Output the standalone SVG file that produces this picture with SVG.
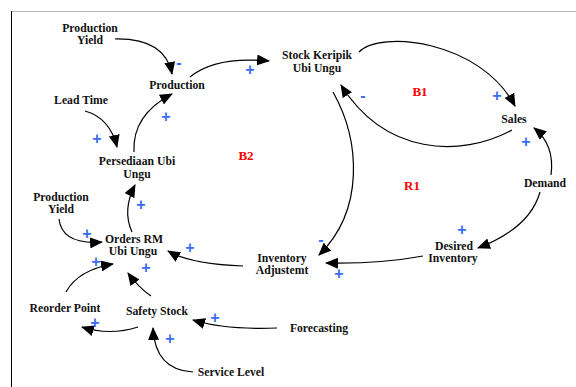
<svg xmlns="http://www.w3.org/2000/svg" width="576" height="387" viewBox="0 0 576 387">
<style>
.t{font-family:"Liberation Serif","Times New Roman",serif;font-weight:bold;font-size:11.7px;fill:#111;text-anchor:middle}
.l{font-family:"Liberation Serif","Times New Roman",serif;font-weight:bold;font-size:13px;fill:#ff0000;text-anchor:middle}
.p{font-family:"Liberation Sans",Arial,sans-serif;font-weight:bold;font-size:16px;fill:#3a6cf4;text-anchor:middle}
.c{fill:none;stroke:#000;stroke-width:1.2;marker-end:url(#ah)}
</style>
<defs>
<marker id="ah" markerWidth="13" markerHeight="11" refX="12" refY="5.5" orient="auto" markerUnits="userSpaceOnUse">
<path d="M0,0 L13,5.5 L0,11 Z" fill="#000"/>
</marker>
</defs>
<rect width="576" height="387" fill="#fff"/>
<line x1="11" y1="11.5" x2="576" y2="11.5" stroke="#bbb" stroke-width="1"/>
<line x1="11.5" y1="11" x2="11.5" y2="387" stroke="#000" stroke-width="1"/>

<g id="connectors">
<path class="c" d="M115,39 Q165,38 172,74"/>
<path class="c" d="M190,77 Q215,56 269,61"/>
<path class="c" d="M85,111 Q110,118 117,147"/>
<path class="c" d="M134,152 Q132,115 172,94"/>
<path class="c" d="M132,232 Q122,210 135,185"/>
<path class="c" d="M59,219 Q62,245 102,242"/>
<path class="c" d="M66,292 Q78,270 113,264"/>
<path class="c" d="M151,296 Q138,287 128,273"/>
<path class="c" d="M243,266 Q190,264 168,251"/>
<path class="c" d="M138,327 Q110,336 82,327"/>
<path class="c" d="M277,328 Q225,330 193,320"/>
<path class="c" d="M193,372 Q155,370 153,328"/>
<path class="c" d="M359,52 C380,30 480,40 515,106"/>
<path class="c" d="M512,130 C460,158 385,155 341,85"/>
<path class="c" d="M333,92 C360,140 365,210 319,255"/>
<path class="c" d="M423,256 Q380,264 326,263" stroke="#666"/>
<path class="c" d="M551,175 Q555,145 534,128"/>
<path class="c" d="M540,192 Q530,228 478,248"/>
</g>

<g id="production-yield-top"><text class="t" x="90" y="32">Production</text><text class="t" x="90" y="44">Yield</text></g>
<g id="production"><text class="t" x="177" y="89">Production</text></g>
<g id="lead-time"><text class="t" x="81" y="104">Lead Time</text></g>
<g id="persediaan"><text class="t" x="137" y="165">Persediaan Ubi</text><text class="t" x="137" y="178">Ungu</text></g>
<g id="stock-keripik"><text class="t" x="317" y="59">Stock Keripik</text><text class="t" x="317" y="72">Ubi Ungu</text></g>
<g id="sales"><text class="t" x="514" y="123">Sales</text></g>
<g id="demand"><text class="t" x="545" y="187">Demand</text></g>
<g id="desired-inventory"><text class="t" x="454" y="250">Desired</text><text class="t" x="453" y="262">Inventory</text></g>
<g id="inventory-adjustment"><text class="t" x="282" y="262">Inventory</text><text class="t" x="282" y="274">Adjustemt</text></g>
<g id="forecasting"><text class="t" x="319" y="332">Forecasting</text></g>
<g id="production-yield-bottom"><text class="t" x="61" y="201">Production</text><text class="t" x="61" y="213">Yield</text></g>
<g id="orders-rm"><text class="t" x="134" y="243">Orders RM</text><text class="t" x="133" y="255">Ubi Ungu</text></g>
<g id="reorder-point"><text class="t" x="65" y="312">Reorder Point</text></g>
<g id="safety-stock"><text class="t" x="157" y="315">Safety Stock</text></g>
<g id="service-level"><text class="t" x="231" y="376">Service Level</text></g>

<g id="loops">
<text class="l" x="246" y="160">B2</text>
<text class="l" x="420" y="96">B1</text>
<text class="l" x="412" y="190">R1</text>
</g>

<g id="polarities">
<text class="p" x="179" y="68">-</text>
<text class="p" x="250" y="75">+</text>
<text class="p" x="166" y="122">+</text>
<text class="p" x="97" y="144">+</text>
<text class="p" x="363" y="101">-</text>
<text class="p" x="497" y="101">+</text>
<text class="p" x="526" y="147">+</text>
<text class="p" x="462" y="235">+</text>
<text class="p" x="321" y="245">-</text>
<text class="p" x="339" y="279">+</text>
<text class="p" x="141" y="210">+</text>
<text class="p" x="87" y="239">+</text>
<text class="p" x="190" y="253">+</text>
<text class="p" x="96" y="267">+</text>
<text class="p" x="146" y="273">+</text>
<text class="p" x="215" y="323">+</text>
<text class="p" x="95" y="328">+</text>
<text class="p" x="170" y="344">+</text>
</g>
</svg>
